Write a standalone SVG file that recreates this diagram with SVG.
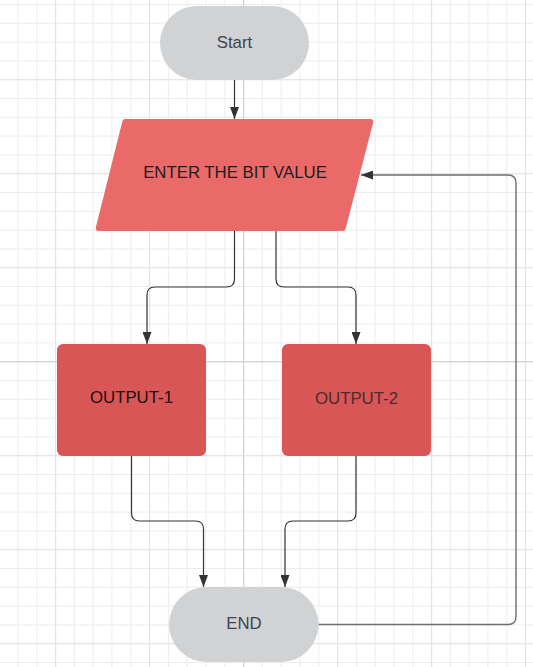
<svg xmlns="http://www.w3.org/2000/svg" width="533" height="667" viewBox="0 0 533 667">
<defs>
<style>
.conn{fill:none;stroke:#333333;stroke-width:1.2}
.loop{fill:none;stroke:#6e6e6e;stroke-width:1.4}
.term{fill:#d1d2d4}
.box{fill:#d95656}
.lbl{font-family:"Liberation Sans",Arial,sans-serif;font-size:16.8px;text-anchor:middle}
</style>
<pattern id="minor" patternUnits="userSpaceOnUse" x="-1.3" y="4" width="18.8" height="18.8">
<path d="M0.5 0V18.8M0 0.5H18.8" stroke="#ececec" stroke-width="1" fill="none"/>
</pattern>
<pattern id="mid" patternUnits="userSpaceOnUse" x="55.1" y="79.2" width="94" height="94">
<path d="M0.5 0V94M0 0.5H94" stroke="#e3e3e3" stroke-width="1" fill="none"/>
</pattern>
<marker id="arr" markerUnits="userSpaceOnUse" viewBox="0 0 12 9" refX="12" refY="4.5" markerWidth="12" markerHeight="9" orient="auto">
<path d="M0 0L12 4.5L0 9z" fill="#333333"/>
</marker>
</defs>
<rect width="533" height="667" fill="#ffffff"/>
<rect width="533" height="667" fill="url(#minor)"/>
<rect width="533" height="667" fill="url(#mid)"/>
<path d="M243.6 0V667M0 361.7H533" stroke="#d4d4d4" stroke-width="1.2" fill="none"/>

<g id="connectors">
<path class="conn" d="M234.5 80V119" marker-end="url(#arr)"/>
<path class="conn" d="M234.5 231V279Q234.5 287 226.5 287H155Q147 287 147 295V344" marker-end="url(#arr)"/>
<path class="conn" d="M276 231V279Q276 287 284 287H348Q356 287 356 295V344" marker-end="url(#arr)"/>
<path class="conn" d="M131.5 456V513Q131.5 521 139.5 521H195.5Q203.5 521 203.5 529V587" marker-end="url(#arr)"/>
<path class="conn" d="M356 456V513Q356 521 348 521H293Q285 521 285 529V587" marker-end="url(#arr)"/>
<path class="loop" d="M318.5 624.5H508Q516 624.5 516 616.5V183Q516 175 508 175H361" marker-end="url(#arr)"/>
</g>

<g id="start">
<rect class="term" x="160" y="6" width="149" height="74" rx="37"/>
<text class="lbl" x="234.5" y="48" fill="#3d4450">Start</text>
</g>

<g id="enter">
<polygon points="125.3,122 370.2,122 342.7,228 98.8,228" fill="#ea6a6a" stroke="#ea6a6a" stroke-width="6" stroke-linejoin="round"/>
<text class="lbl" x="235" y="178" fill="#1f1a1a">ENTER THE BIT VALUE</text>
</g>

<g id="output1">
<rect class="box" x="57" y="344" width="149" height="112" rx="6"/>
<text class="lbl" x="131.5" y="403" fill="#1a1010">OUTPUT-1</text>
</g>

<g id="output2">
<rect class="box" x="282" y="344" width="149" height="112" rx="6"/>
<text class="lbl" x="356.5" y="403.5" fill="#4a2c2c">OUTPUT-2</text>
</g>

<g id="end">
<rect class="term" x="169" y="587" width="149.5" height="75" rx="37.5"/>
<text class="lbl" x="244" y="629" fill="#3d4450">END</text>
</g>
</svg>
